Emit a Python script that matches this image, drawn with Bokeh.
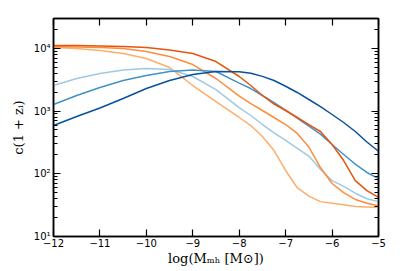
from bokeh.plotting import figure
from bokeh.models import FixedTicker, LogTicker, LinearAxis, LogAxis, Range1d
from bokeh.embed import file_html
from bokeh.resources import INLINE

# x grid: log(M_mh / Msun)
log_m = [-12, -11.5, -11, -10.5, -10, -9.5, -9, -8.5, -8, -7.75, -7.5, -7.25, -7,
         -6.75, -6.5, -6.25, -6, -5.75, -5.5, -5.25, -5]

# c(1+z_i) values
blue_dark = [589, 820, 1119, 1589, 2291, 3076, 3837, 4285, 4250, 4010, 3580, 3076, 2489,
             1982, 1531, 1183, 883, 658, 473, 322, 229]
blue_mid = [1274, 1774, 2377, 3076, 3698, 4285, 4529, 4285, 2800, 2291, 1774, 1371, 1033,
            776, 577, 430, 293, 203, 143, 105, 84]
blue_light = [2559, 3311, 3981, 4529, 4775, 4603, 3565, 2208, 1140, 851, 611, 448, 340,
              255, 192, 117, 78, 63, 49, 40, 36]
orange_dark = [11117, 11117, 10914, 10715, 10328, 9419, 8299, 6180, 3565, 2559, 1774, 1297, 1023,
               791, 611, 473, 293, 163, 78, 54, 42]
orange_mid = [10715, 10520, 10328, 9954, 8933, 7430, 5534, 3311, 1734, 1321, 1023, 791, 611,
              440, 267, 126, 70, 50, 39, 34, 31]
orange_light = [10328, 9954, 9268, 8299, 6902, 4955, 2559, 1422, 791, 589, 394, 235, 113,
                60, 44, 36, 34, 32, 30, 29.5, 29]

x_ticks = [-12, -11, -10, -9, -8, -7, -6, -5]
x_tick_labels = ["\u221212", "\u221211", "\u221210", "\u22129", "\u22128", "\u22127", "\u22126", "\u22125"]
y_ticks = [10, 100, 1000, 10000]
y_tick_labels = ["10\u00b9", "10\u00b2", "10\u00b3", "10\u2074"]

series = [
    (orange_light, "#fdae6b"),
    (blue_light, "#9ecae1"),
    (orange_mid, "#fd8d3c"),
    (blue_mid, "#4292c6"),
    (orange_dark, "#e6550d"),
    (blue_dark, "#08519c"),
]

p = figure(width=407, height=271, y_axis_type="log",
           x_range=Range1d(-12, -5), y_range=Range1d(10, 3.0e4),
           output_backend="svg", toolbar_location=None,
           min_border_left=53, min_border_right=29, min_border_top=18, min_border_bottom=35)

for ys, col in series:
    p.line(log_m, ys, line_color=col, line_width=1.5)

p.grid.visible = False
p.outline_line_color = "black"
p.outline_line_width = 1.5

label_font = "DejaVu Sans"
serif = "DejaVu Serif"

def style_axis(ax, minor=True):
    ax.axis_line_width = 1.5
    ax.axis_line_color = "black"
    ax.major_tick_in = 7
    ax.major_tick_out = 0
    ax.major_tick_line_width = 1.2
    ax.minor_tick_in = 4 if minor else 0
    ax.minor_tick_out = 0
    ax.minor_tick_line_width = 1
    ax.major_label_text_font = label_font
    ax.major_label_text_font_size = "10px"
    ax.major_label_text_color = "black"
    ax.axis_label_text_font = serif
    ax.axis_label_text_font_size = "13px"
    ax.axis_label_text_font_style = "normal"
    ax.axis_label_text_color = "black"

xax = p.xaxis[0]
xax.ticker = FixedTicker(ticks=x_ticks, minor_ticks=[])
xax.major_label_overrides = dict(zip(x_ticks, x_tick_labels))
style_axis(xax, minor=False)
xax.major_label_standoff = 2
xax.axis_label = "log(M\u2098\u2095 [M\u2299])"
xax.axis_label_standoff = 1

yax = p.yaxis[0]
yax.ticker = LogTicker(num_minor_ticks=10)
yax.major_label_overrides = dict(zip(y_ticks, y_tick_labels))
style_axis(yax)
yax.major_label_standoff = 3
yax.axis_label = "c(1 + z\u1d62)"
yax.axis_label_standoff = 5

top = LinearAxis(ticker=FixedTicker(ticks=x_ticks, minor_ticks=[]))
style_axis(top, minor=False)
top.major_label_text_color = None
top.major_label_text_font_size = "1px"
top.major_label_standoff = 0
p.add_layout(top, "above")

right = LogAxis(ticker=LogTicker(num_minor_ticks=10))
style_axis(right)
right.major_label_text_color = None
right.major_label_text_font_size = "1px"
right.major_label_standoff = 0
p.add_layout(right, "right")

open("out.html", "w").write(file_html(p, INLINE))
